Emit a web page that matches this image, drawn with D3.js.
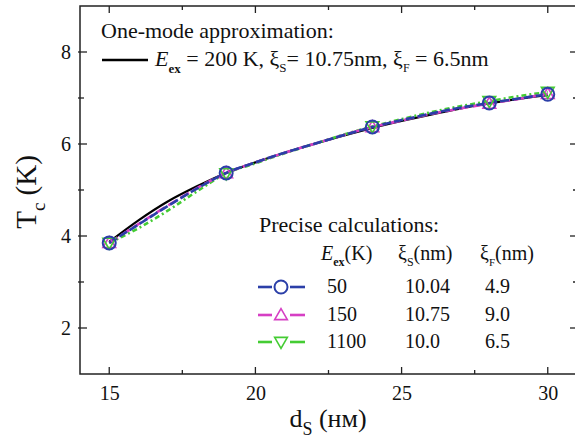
<!DOCTYPE html>
<html><head><meta charset="utf-8">
<script src="https://cdn.jsdelivr.net/npm/d3@7"></script>
<style>body{margin:0;background:#fff}svg{display:block}svg text{font-family:"Liberation Serif","DejaVu Serif","Times New Roman",serif !important;fill:#111}</style>
</head><body><svg id="c" width="575" height="444" font-family="Liberation Serif, serif"></svg>
<script>
// Data
const curveX = [15,16,17,18,19,20,21,22,23,24,25,26,27,28,29,30];
const oneMode = [3.87,4.34,4.75,5.08,5.37,5.60,5.81,6.00,6.18,6.35,6.50,6.64,6.77,6.88,6.98,7.06];
const ex50   = [3.85,4.25,4.65,5.03,5.37,5.6,5.81,6.0,6.19,6.37,6.52,6.66,6.79,6.89,6.99,7.08];
const ex150  = [3.85,4.26,4.66,5.04,5.37,5.6,5.81,6.0,6.19,6.37,6.51,6.65,6.77,6.88,6.98,7.09];
const ex1100 = [3.85,4.17,4.55,4.97,5.36,5.58,5.8,6.0,6.2,6.38,6.54,6.69,6.82,6.93,7.04,7.13];
const markX = [15,19,24,28,30];
const xTicks = [15,20,25,30];
const yTicks = [2,4,6,8];
const legendRows = [
  {Eex:"50", xiS:"10.04", xiF:"4.9"},
  {Eex:"150", xiS:"10.75", xiF:"9.0"},
  {Eex:"1100", xiS:"10.0", xiF:"6.5"}
];

const svg = d3.select("#c");
const L=80, R=577, T=6, B=374;
const x = d3.scaleLinear().domain([14,31]).range([L,R]);
const y = d3.scaleLinear().domain([1,9]).range([B,T]);

svg.append("rect").attr("x",L).attr("y",T).attr("width",R-L).attr("height",B-T)
  .attr("fill","none").attr("stroke","#222").attr("stroke-width",1.5);

const xMinor = d3.range(15,31,2.5).filter(v=>!xTicks.includes(v));
const yMinor = [3,5,7];
function ticks(vals,len){
  vals.forEach(v=>{
    svg.append("line").attr("x1",x(v)).attr("x2",x(v)).attr("y1",B).attr("y2",B-len).attr("stroke","#222").attr("stroke-width",1.3);
    svg.append("line").attr("x1",x(v)).attr("x2",x(v)).attr("y1",T).attr("y2",T+len).attr("stroke","#222").attr("stroke-width",1.3);
  });
}
function yt(vals,len){
  vals.forEach(v=>{
    svg.append("line").attr("y1",y(v)).attr("y2",y(v)).attr("x1",L-2).attr("x2",L+len).attr("stroke","#222").attr("stroke-width",1.3);
    svg.append("line").attr("y1",y(v)).attr("y2",y(v)).attr("x1",R).attr("x2",R-len).attr("stroke","#222").attr("stroke-width",1.3);
  });
}
ticks(xTicks,7); ticks(xMinor,4); yt(yTicks,7); yt(yMinor,4);

const xa = svg.append("g").attr("transform",`translate(0,${B})`)
  .call(d3.axisBottom(x).tickValues(xTicks).tickSize(0).tickPadding(12));
xa.attr("font-family",null).select(".domain").remove();
xa.selectAll("text").style("font-size","20px").attr("fill","#111");
const ya = svg.append("g").attr("transform",`translate(${L},0)`)
  .call(d3.axisLeft(y).tickValues(yTicks).tickSize(0).tickPadding(9));
ya.attr("font-family",null).select(".domain").remove();
ya.selectAll("text").style("font-size","20px").attr("fill","#111");

const xt = svg.append("text").attr("x",328).attr("y",427).attr("text-anchor","middle").style("font-size","26px");
xt.append("tspan").text("d");
xt.append("tspan").attr("dy",8).style("font-size","18px").text("S");
xt.append("tspan").attr("dy",-8).text(" (нм)");
const ytl = svg.append("text").attr("transform","translate(36,192) rotate(-90)").attr("text-anchor","middle").style("font-size","29px");
ytl.append("tspan").text("T");
ytl.append("tspan").attr("dy",9).style("font-size","19px").text("c");
ytl.append("tspan").attr("dy",-9).text(" (K)");

const line = d3.line().x((d,i)=>x(curveX[i])).y(d=>y(d)).curve(d3.curveMonotoneX);
const series = [
  {vals:ex1100, color:"#44cc33", dash:"5,3,2,3", marker:"down"},
  {vals:ex150, color:"#d63fc4", dash:"10,4", marker:"up"},
  {vals:ex50, color:"#2b3fa8", dash:"9,3", marker:"circle"}
];
svg.append("path").attr("d",line(oneMode)).attr("fill","none").attr("stroke","#000").attr("stroke-width",2.2);
series.forEach(s=>{
  svg.append("path").attr("d",line(s.vals)).attr("fill","none").attr("stroke",s.color).attr("stroke-width",2.6).attr("stroke-dasharray",s.dash);
});
function marker(g,type,cx,cy,color){
  if(type==="circle") g.append("circle").attr("cx",cx).attr("cy",cy).attr("r",6.5).attr("fill","none").attr("stroke",color).attr("stroke-width",2);
  else {
    const sym = d3.symbol().type(d3.symbolTriangle).size(70);
    g.append("path").attr("d",sym()).attr("transform",`translate(${cx},${cy + (type==="down"?-1:1)}) rotate(${type==="down"?180:0})`)
      .attr("fill","none").attr("stroke",color).attr("stroke-width",1.6);
  }
}
const mg = svg.append("g");
[series[1],series[0],series[2]].forEach(s=>{
  markX.forEach(mx=>{
    const i = curveX.indexOf(mx);
    marker(mg,s.marker,x(mx),y(s.vals[i]),s.color);
  });
});

svg.append("text").attr("x",101).attr("y",38).style("font-size","22px").text("One-mode approximation:");
svg.append("line").attr("x1",102).attr("x2",148).attr("y1",60).attr("y2",60).attr("stroke","#000").attr("stroke-width",2.5);
const t2 = svg.append("text").attr("x",155).attr("y",66).style("font-size","22px");
t2.append("tspan").style("font-style","italic").text("E");
t2.append("tspan").attr("dy",7).style("font-size","13px").style("font-weight","bold").text("ex");
t2.append("tspan").attr("dy",-7).text(" = 200 K, ξ");
t2.append("tspan").attr("dy",6).style("font-size","13px").text("S");
t2.append("tspan").attr("dy",-6).text("= 10.75nm, ξ");
t2.append("tspan").attr("dy",6).style("font-size","12px").text("F");
t2.append("tspan").attr("dy",-6).text(" = 6.5nm");

svg.append("text").attr("x",259).attr("y",232).style("font-size","22px").text("Precise calculations:");
const h = svg.append("text").attr("y",260).style("font-size","20px");
h.append("tspan").attr("x",321).style("font-style","italic").text("E");
h.append("tspan").attr("dy",6).style("font-size","12px").style("font-weight","bold").text("ex");
h.append("tspan").attr("dy",-6).text("(K)");
h.append("tspan").attr("x",398).text("ξ");
h.append("tspan").attr("dy",6).style("font-size","12px").text("S");
h.append("tspan").attr("dy",-6).text("(nm)");
h.append("tspan").attr("x",480).text("ξ");
h.append("tspan").attr("dy",6).style("font-size","11px").text("F");
h.append("tspan").attr("dy",-6).text("(nm)");

const legSeries=[series[2],series[1],series[0]];
const rowY=[293,321,348];
legendRows.forEach((r,i)=>{
  const s=legSeries[i], cy=rowY[i]-6;
  svg.append("line").attr("x1",258).attr("x2",272).attr("y1",cy).attr("y2",cy).attr("stroke",s.color).attr("stroke-width",2.6);
  svg.append("line").attr("x1",290).attr("x2",305).attr("y1",cy).attr("y2",cy).attr("stroke",s.color).attr("stroke-width",2.6);
  marker(svg,s.marker,281,cy,s.color);
  svg.append("text").attr("x",327).attr("y",rowY[i]).style("font-size","20px").text(r.Eex);
  svg.append("text").attr("x",405).attr("y",rowY[i]).style("font-size","20px").text(r.xiS);
  svg.append("text").attr("x",485).attr("y",rowY[i]).style("font-size","20px").text(r.xiF);
});
</script></body></html>
